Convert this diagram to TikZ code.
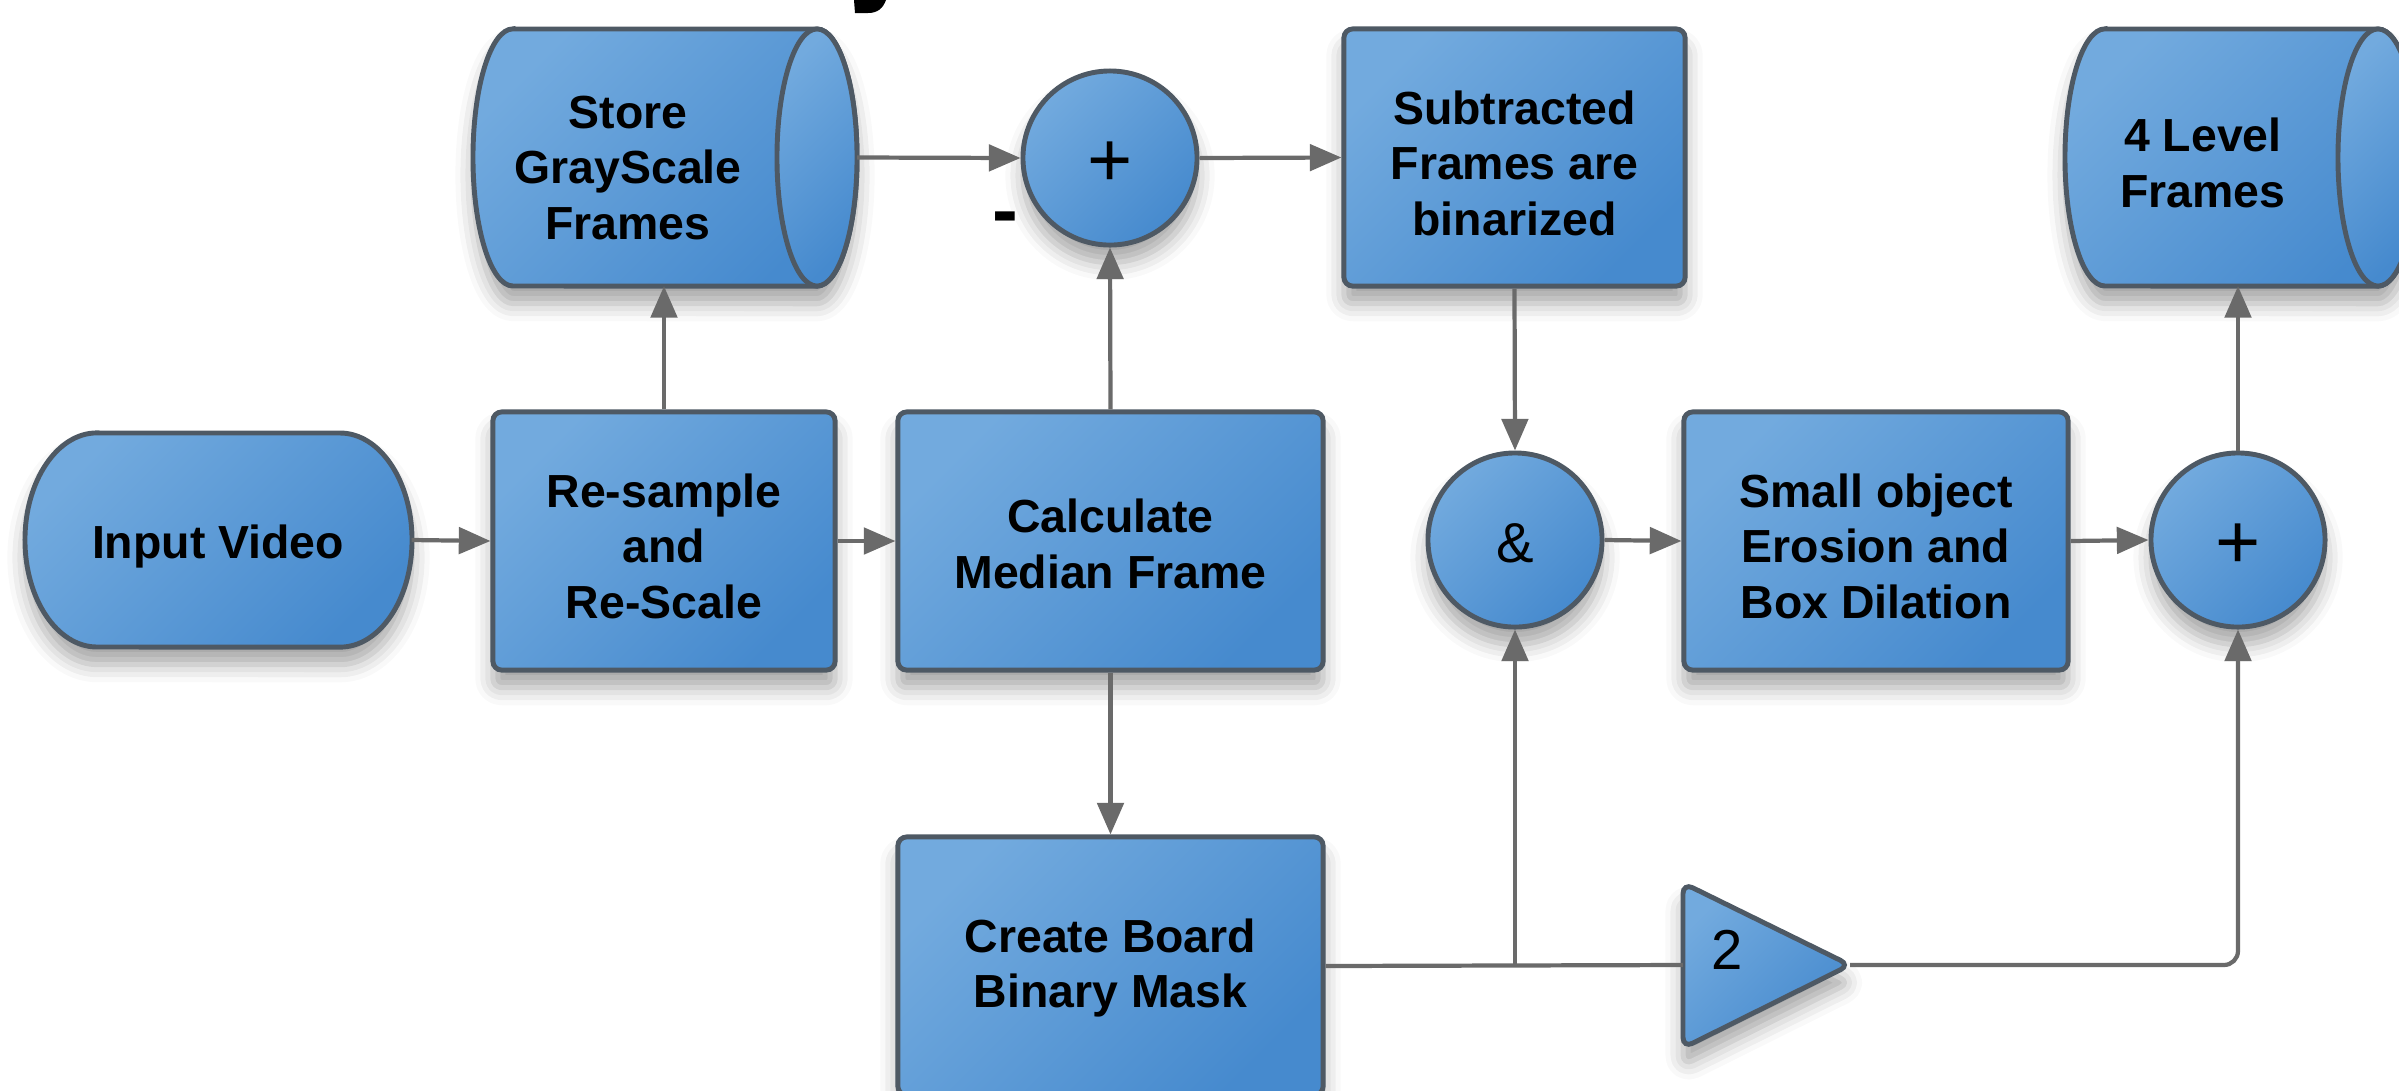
\documentclass[tikz,border=0pt]{standalone}
\usepackage{fontspec}
\setmainfont{Liberation Sans}
\usetikzlibrary{arrows.meta,shadows.blur}

\definecolor{bluetop}{HTML}{72AADE}
\definecolor{bluebot}{HTML}{468ACE}
\definecolor{edgecol}{HTML}{4E5964}
\definecolor{wirecol}{HTML}{6A6A6A}

\newcommand\lblfont{\fontsize{13.2}{15.8}\selectfont\bfseries}
\newcommand\symfont{\fontsize{16}{16}\selectfont}
\newcommand\plusfont{\fontsize{22}{22}\selectfont}

\tikzset{
  blockfill/.style={top color=bluetop, bottom color=bluebot, shading angle=45},
  shp/.style={blockfill, draw=edgecol, line width=1.4pt,
    blur shadow={shadow xshift=0pt, shadow yshift=-5pt, shadow blur radius=5pt, shadow opacity=35}},
  box/.style={shp, rectangle, rounded corners=2.5pt, inner sep=0pt},
  sym/.style={shp, circle, minimum size=1.74cm, inner sep=0pt},
  frame/.style={inner sep=0pt, outer sep=0pt},
  boxtext/.style={font=\lblfont, align=center, inner sep=0pt},
  symtext/.style={inner sep=0pt},
  conn/.style={draw=wirecol, line width=1.2pt, -{Triangle[length=9pt,width=7.5pt]}},
  wireline/.style={draw=wirecol, line width=1.2pt},
}

\begin{document}
\begin{tikzpicture}[x=0.01cm,y=-0.01cm]
\useasboundingbox (0,0) rectangle (2399,1090);

% cropped fragment of a title glyph at the top edge
\fill[black] (854,0) -- (886,0) .. controls (883,8) and (878,13) .. (868,13) -- (855,13) -- cycle;

% Input Video (terminator)
\path[shp] (97,433) -- (340,433) arc[start angle=90,end angle=-90,x radius=0.72cm,y radius=1.07cm]
  -- (97,647) arc[start angle=270,end angle=90,x radius=0.72cm,y radius=1.07cm] -- cycle;
\node[frame, minimum width=3.87cm, minimum height=2.14cm] (input) at (218,540) {};
\node[boxtext] (inputtext) at (218,546) {Input Video};

% Store GrayScale Frames (cylinder)
\path[shp] (513,29) -- (817,29) arc[start angle=90,end angle=-90,x radius=0.4cm,y radius=1.285cm]
  -- (513,286) arc[start angle=270,end angle=90,x radius=0.4cm,y radius=1.285cm] -- cycle;
\path[blockfill, draw=edgecol, line width=1.4pt] (817,157.5) ellipse [x radius=0.4cm, y radius=1.285cm];
\node[frame, minimum width=3.84cm, minimum height=2.57cm] (store) at (665,157.5) {};
\node[boxtext] (storetext) at (628,168) {Store\\GrayScale\\Frames};

% 4 Level Frames (cylinder)
\path[shp] (2105,29) -- (2378,29) arc[start angle=90,end angle=-90,x radius=0.4cm,y radius=1.285cm]
  -- (2105,286) arc[start angle=270,end angle=90,x radius=0.4cm,y radius=1.285cm] -- cycle;
\path[blockfill, draw=edgecol, line width=1.4pt] (2378,157.5) ellipse [x radius=0.4cm, y radius=1.285cm];
\node[frame, minimum width=3.53cm, minimum height=2.57cm] (four) at (2241.5,157.5) {};
\node[boxtext] (fourtext) at (2203,163) {4 Level\\Frames};

% rectangles
\node[box, minimum width=3.42cm, minimum height=2.58cm] (resample) at (664,541) {};
\node[boxtext] (resampletext) at (664,546) {Re-sample\\and\\Re-Scale};
\node[box, minimum width=4.25cm, minimum height=2.58cm] (calc) at (1110.5,541) {};
\node[boxtext] (calctext) at (1110.5,544) {Calculate\\Median Frame};
\node[box, minimum width=4.25cm, minimum height=2.58cm] (board) at (1110.5,966) {};
\node[boxtext] (boardtext) at (1110.5,968) {Create Board\\Binary Mask};
\node[box, minimum width=3.41cm, minimum height=2.57cm] (subtr) at (1514.5,157.5) {};
\node[boxtext] (subtrtext) at (1514.5,163) {Subtracted\\Frames are\\binarized};
\node[box, minimum width=3.84cm, minimum height=2.58cm] (small) at (1876,541) {};
\node[boxtext] (smalltext) at (1876,546) {Small object\\Erosion and\\Box Dilation};

% circles
\node[sym] (plusA) at (1110,158) {};
\node[symtext, font=\plusfont] (plusAtext) at (1110,164) {+};
\node[sym] (amp) at (1515,540) {};
\node[symtext, font=\symfont] (amptext) at (1515,543) {\&};
\node[sym] (plusB) at (2238,540) {};
\node[symtext, font=\plusfont] (plusBtext) at (2238,546) {+};

% gain triangle
\path[shp, rounded corners=3pt] (1683,883) -- (1850,965) -- (1683,1048) -- cycle;
\node[frame, minimum width=1.67cm, minimum height=1.65cm] (gain) at (1766.5,965) {};
\node[symtext, font=\symfont] (gaintext) at (1727,950) {2};

% minus sign label
\node[symtext, font=\plusfont\bfseries] (minus) at (1005,224) {-};

% connectors
\draw[conn] (input.east) -- (resample.west);
\draw[conn] (resample.north) -- (resample.north |- store.south);
\draw[conn] (resample.east) -- (calc.west);
\draw[conn] (store.east) -- (plusA.west);
\draw[conn] (calc.north) -- (plusA.south);
\draw[conn] (plusA.east) -- (subtr.west);
\draw[conn] (subtr.south) -- (amp.north);
\draw[conn] (calc.south) -- (board.north);
\draw[conn] (amp.east) -- (small.west);
\draw[conn] (small.east) -- (plusB.west);
\draw[conn] (plusB.north) -- (plusB.north |- four.south);
\coordinate (split) at (amp.south |- board.east);
\draw[wireline] (board.east) -- (gain.west);
\draw[conn] (split) -- (amp.south);
\draw[conn, rounded corners=4pt] (gain.east) -| (plusB.south);
\end{tikzpicture}
\end{document}
